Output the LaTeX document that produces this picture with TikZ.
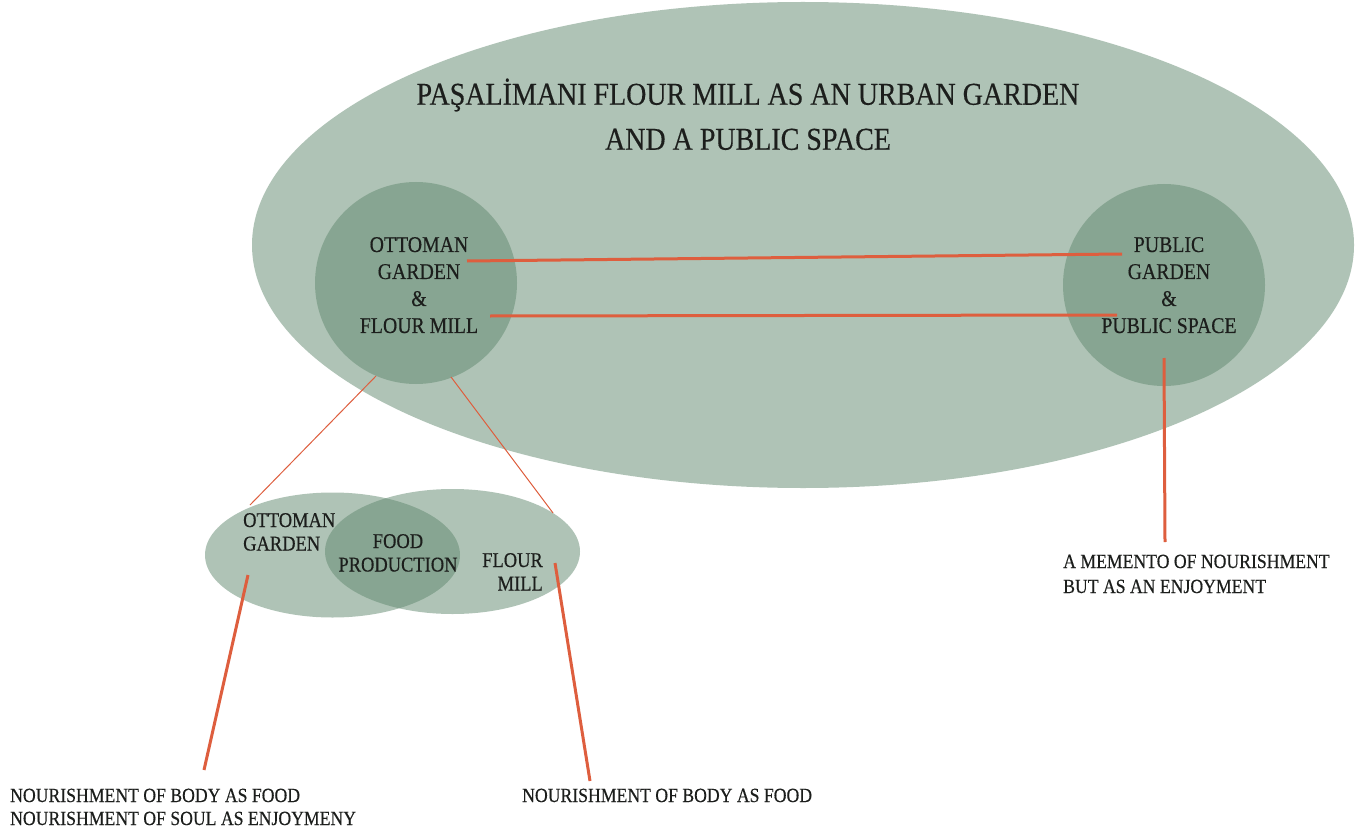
\documentclass[tikz,border=0pt]{standalone}
\usepackage{fontspec}
\setmainfont{Liberation Serif}[FakeStretch=0.88, FakeBold=0.4]
\usetikzlibrary{shapes.geometric}
\definecolor{sage}{RGB}{97,137,111}
\definecolor{rust}{RGB}{222,94,62}
\definecolor{ink}{RGB}{28,30,28}
\begin{document}
\begin{tikzpicture}[x=1pt,y=-1pt,
  sagefill/.style={fill=sage, fill opacity=0.5, draw=none, inner sep=0pt, outer sep=0pt},
  bigell/.style={ellipse, sagefill, minimum width=1102pt, minimum height=486pt},
  ring/.style={circle, sagefill, minimum size=202pt},
  venn/.style={ellipse, sagefill, minimum width=255pt, minimum height=125pt},
  titletext/.style={text=ink, inner sep=0pt, align=center, font=\fontsize{31.8}{45}\selectfont},
  circtext/.style={text=ink, inner sep=0pt, align=center, font=\fontsize{22.5}{27}\selectfont},
  venntext/.style={text=ink, inner sep=0pt, font=\fontsize{21}{23.5}\selectfont},
  notetext/.style={text=ink, inner sep=0pt, align=left, font=\fontsize{20.1}{23}\selectfont},
  thick link/.style={draw=rust, line width=3pt},
  thin link/.style={draw=rust, line width=1pt}]
\useasboundingbox (0,0) rectangle (1362,829);
\fill[white] (0,0) rectangle (1362,829);
% shapes
\node[bigell] (big) at (803,245) {};
\node[ring] (lc) at (416,283) {};
\node[ring] (rc) at (1164,285) {};
\node[venn] (vl) at (332.5,555) {};
\node[venn] (vr) at (452.5,551.5) {};
% texts
\node[titletext, anchor=north] (title) at (748,78.3) {PAŞALİMANI FLOUR MILL AS AN URBAN GARDEN\\AND A PUBLIC SPACE};
\node[circtext, anchor=north] (lct) at (419,236.9) {OTTOMAN\\GARDEN\\\&\\FLOUR MILL};
\node[circtext, anchor=north] (rct) at (1169,236.9) {PUBLIC\\GARDEN\\\&\\PUBLIC SPACE};
\node[venntext, align=left, anchor=north west] (vot) at (243,512.9) {OTTOMAN\\GARDEN};
\node[venntext, align=center, anchor=north] (vfp) at (398,533.9) {FOOD\\PRODUCTION};
\node[venntext, align=right, anchor=north east] (vfm) at (543,552.9) {FLOUR\\MILL};
\node[notetext, anchor=north west] (bl) at (10,788.5) {NOURISHMENT OF BODY AS FOOD\\NOURISHMENT OF SOUL AS ENJOYMENY};
\node[notetext, anchor=north west] (bm) at (522,788.5) {NOURISHMENT OF BODY AS FOOD};
\node[notetext, anchor=north west, font=\fontsize{20.1}{25}\selectfont] (br) at (1063,554.5) {A MEMENTO OF NOURISHMENT\\BUT AS AN ENJOYMENT};
% connector ends
\coordinate (a1) at (467,261);
\coordinate (a2) at (1122,254);
\coordinate (b1) at (490,316);
\coordinate (b2) at (1117,315);
\coordinate (c1) at (1164,358);
\coordinate (c2) at (1165,542);
\coordinate (t1) at (376,376);
\coordinate (t2) at (250,505);
\coordinate (t3) at (451,377);
\coordinate (t4) at (553,513);
\coordinate (d1) at (248,575);
\coordinate (d2) at (204,770);
\coordinate (e1) at (555,563);
\coordinate (e2) at (590,781);
% connectors
\draw[thick link] (a1) -- (a2);
\draw[thick link] (b1) -- (b2);
\draw[thick link] (c1) -- (c2);
\draw[thin link] (t1) -- (t2);
\draw[thin link] (t3) -- (t4);
\draw[thick link] (d1) -- (d2);
\draw[thick link] (e1) -- (e2);
\end{tikzpicture}
\end{document}
